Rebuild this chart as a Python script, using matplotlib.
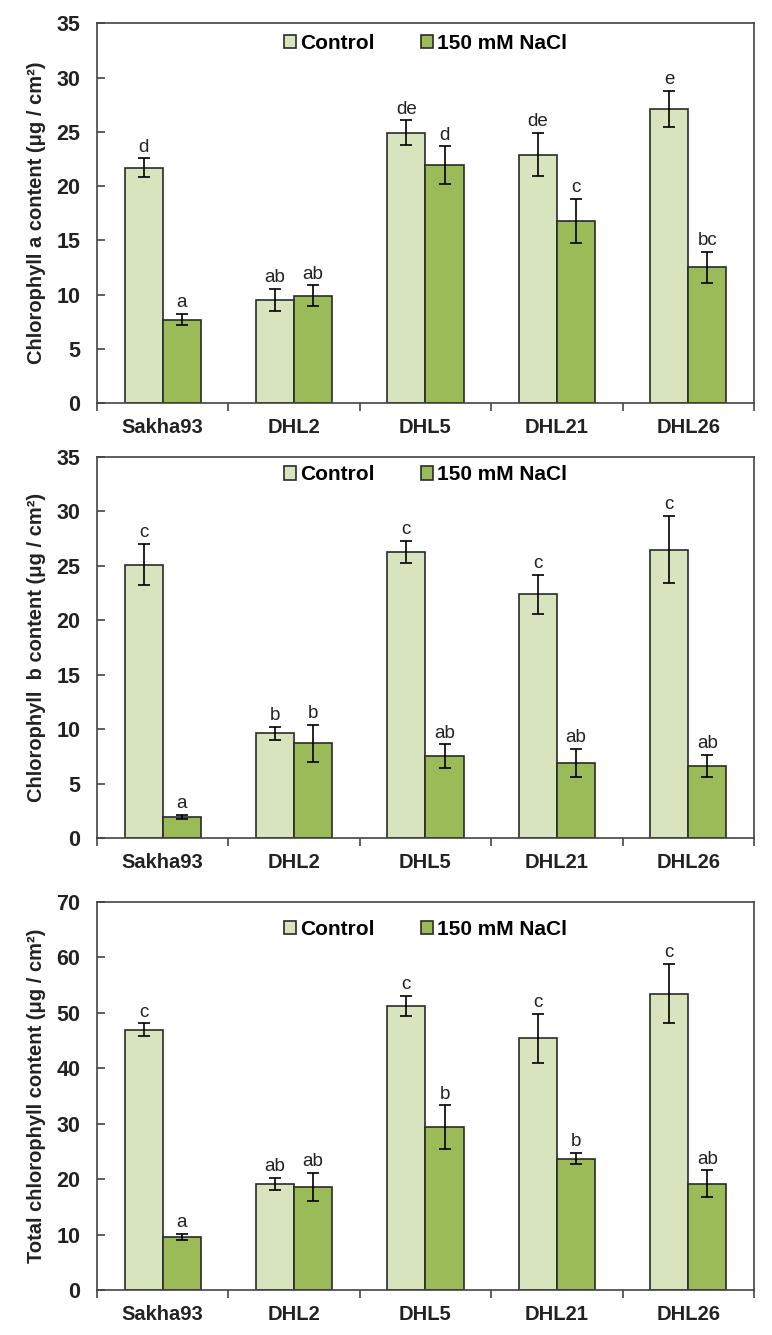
import numpy as np
import matplotlib
matplotlib.use('Agg')
import matplotlib.pyplot as plt
from matplotlib.patches import Patch

plt.rcParams['font.family'] = ['Liberation Sans', 'DejaVu Sans']

genotypes = ['Sakha93', 'DHL2', 'DHL5', 'DHL21', 'DHL26']
series = ['Control', '150 mM NaCl']

# Chlorophyll a
chla_ctrl = [21.7, 9.5, 24.9, 22.9, 27.1]
chla_ctrl_err = [0.85, 1.05, 1.15, 2.0, 1.65]
chla_salt = [7.7, 9.9, 21.9, 16.8, 12.5]
chla_salt_err = [0.5, 0.95, 1.75, 2.0, 1.45]
chla_ctrl_let = ['d', 'ab', 'de', 'de', 'e']
chla_salt_let = ['a', 'ab', 'd', 'c', 'bc']

# Chlorophyll b
chlb_ctrl = [25.1, 9.6, 26.3, 22.4, 26.5]
chlb_ctrl_err = [1.9, 0.6, 1.0, 1.8, 3.1]
chlb_salt = [1.9, 8.7, 7.5, 6.9, 6.6]
chlb_salt_err = [0.2, 1.7, 1.1, 1.3, 1.0]
chlb_ctrl_let = ['c', 'b', 'c', 'c', 'c']
chlb_salt_let = ['a', 'b', 'ab', 'ab', 'ab']

# Total chlorophyll
tot_ctrl = [47.0, 19.2, 51.2, 45.4, 53.5]
tot_ctrl_err = [1.1, 1.1, 1.8, 4.4, 5.4]
tot_salt = [9.6, 18.6, 29.4, 23.7, 19.2]
tot_salt_err = [0.5, 2.6, 3.9, 1.0, 2.4]
tot_ctrl_let = ['c', 'ab', 'c', 'c', 'c']
tot_salt_let = ['a', 'ab', 'b', 'b', 'ab']

ctrl_color = '#d7e4bd'
salt_color = '#9bbb59'
edge = '#2a2a2a'
txt = '#222222'

panels = [
    (chla_ctrl, chla_ctrl_err, chla_salt, chla_salt_err, chla_ctrl_let, chla_salt_let,
     'Chlorophyll a content (μg / cm²)', 35, 5, [0.1256, 0.698, 0.851, 0.2846], 0.947),
    (chlb_ctrl, chlb_ctrl_err, chlb_salt, chlb_salt_err, chlb_ctrl_let, chlb_salt_let,
     'Chlorophyll  b content (μg / cm²)', 35, 5, [0.1256, 0.3723, 0.851, 0.2854], 0.953),
    (tot_ctrl, tot_ctrl_err, tot_salt, tot_salt_err, tot_ctrl_let, tot_salt_let,
     'Total chlorophyll content (μg / cm²)', 70, 10, [0.1256, 0.0337, 0.851, 0.2906], 0.93),
]

fig = plt.figure(figsize=(7.72, 13.35), dpi=100)
x = np.arange(len(genotypes))
w = 0.29

for (c, ce, s, se, cl, sl, ylabel, ymax, ystep, rect, leg_y) in panels:
    ax = fig.add_axes(rect)
    ekw = dict(ecolor='black', elinewidth=1.2, capsize=4, capthick=1.2)
    ax.bar(x - w/2, c, w, yerr=ce, color=ctrl_color, edgecolor=edge, linewidth=1.2,
           error_kw=ekw, label=series[0], zorder=2)
    ax.bar(x + w/2, s, w, yerr=se, color=salt_color, edgecolor=edge, linewidth=1.2,
           error_kw=ekw, label=series[1], zorder=2)
    for i in range(len(x)):
        ax.annotate(cl[i], (x[i] - w/2, c[i] + ce[i]), xytext=(0, 2),
                    textcoords='offset points', ha='center', va='bottom',
                    fontsize=13.5, color=txt)
        ax.annotate(sl[i], (x[i] + w/2, s[i] + se[i]), xytext=(0, 2),
                    textcoords='offset points', ha='center', va='bottom',
                    fontsize=13.5, color=txt)

    ax.set_xlim(-0.5, len(x) - 0.5)
    ax.set_ylim(0, ymax)
    ax.set_yticks(np.arange(0, ymax + 1, ystep))
    ax.set_xticks(x)
    ax.set_xticklabels(genotypes, fontsize=14.5, fontweight='bold', color=txt)
    ax.set_xticks(np.arange(-0.5, len(x), 1.0), minor=True)
    ax.tick_params(axis='x', which='major', length=0, pad=11)
    ax.tick_params(axis='x', which='minor', length=6, width=1.2, color='#444444')
    ax.tick_params(axis='y', direction='in', length=6, width=1.2, color='#444444',
                   labelsize=15.5, pad=12)
    for lab in ax.get_yticklabels():
        lab.set_fontweight('bold')
        lab.set_color(txt)
    ax.set_ylabel(ylabel, fontsize=14.5, fontweight='bold', color=txt)
    ax.yaxis.set_label_coords(-0.078, 0.5)
    for sp in ax.spines.values():
        sp.set_color('#444444')
        sp.set_linewidth(1.2)

    handles = [Patch(facecolor=ctrl_color, edgecolor=edge, linewidth=1.2),
               Patch(facecolor=salt_color, edgecolor=edge, linewidth=1.2)]
    ax.legend(handles, series, loc='center', bbox_to_anchor=(0.5, leg_y), ncol=2,
              frameon=False, handlelength=0.6, handleheight=0.6, handletextpad=0.2,
              columnspacing=2.2, prop={'size': 15, 'weight': 'bold'})

fig.savefig('out.png', dpi=100)
